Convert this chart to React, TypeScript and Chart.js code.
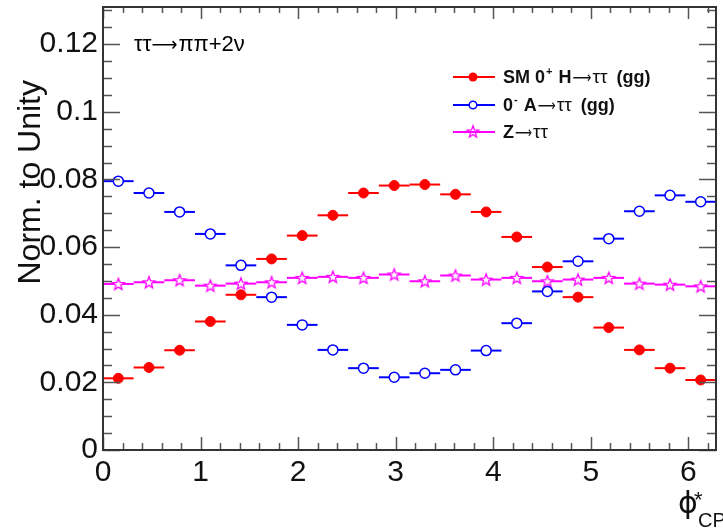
import React, { useEffect, useRef } from "react";
import { Chart, registerables } from "chart.js";
Chart.register(...registerables);

// bin centres of phi*_CP (20 bins over 0..2pi)
const phiCenters = [
  0.157, 0.471, 0.785, 1.1, 1.414, 1.728, 2.042, 2.356, 2.67, 2.985,
  3.299, 3.613, 3.927, 4.241, 4.555, 4.869, 5.184, 5.498, 5.812, 6.126,
];
const halfBin = 0.157;

const smHiggs = [
  0.0212, 0.0244, 0.0295, 0.038, 0.0459, 0.0565, 0.0634, 0.0694, 0.076, 0.0782,
  0.0785, 0.0756, 0.0704, 0.063, 0.0541, 0.0452, 0.0362, 0.0296, 0.0242, 0.0207,
];
const psA = [
  0.0795, 0.076, 0.0704, 0.0639, 0.0546, 0.0452, 0.037, 0.0296, 0.0242, 0.0215,
  0.0227, 0.0237, 0.0294, 0.0375, 0.0469, 0.0558, 0.0625, 0.0706, 0.0753, 0.0734,
];
const zTauTau = [
  0.0491, 0.0496, 0.0502, 0.0486, 0.0492, 0.0496, 0.0509, 0.0512, 0.0509, 0.0519,
  0.0499, 0.0516, 0.0504, 0.0509, 0.0499, 0.0504, 0.0509, 0.0492, 0.0489, 0.0484,
];

const ARROW = "\u27f6";
const X_MAX = 6.2832;
const Y_MAX = 0.131;
const FONT = "'Liberation Sans', Arial, Helvetica, sans-serif";
const SYM = "'DejaVu Sans', sans-serif";

function makeStar(fill: boolean): HTMLCanvasElement {
  const c = document.createElement("canvas");
  c.width = 16;
  c.height = 16;
  const g = c.getContext("2d")!;
  g.beginPath();
  for (let k = 0; k < 10; k++) {
    const r = k % 2 === 0 ? 6.2 : 2.6;
    const a = -Math.PI / 2 + (k * Math.PI) / 5;
    const px = 8 + r * Math.cos(a);
    const py = 8.5 + r * Math.sin(a);
    if (k === 0) g.moveTo(px, py);
    else g.lineTo(px, py);
  }
  g.closePath();
  if (fill) {
    g.fillStyle = "#ffffff";
    g.fill();
  }
  g.strokeStyle = "#ff00ff";
  g.lineWidth = 1.3;
  g.stroke();
  return c;
}

// flowing text segments; dx = extra gap before, w = stretched width
type Seg = { t: string; f: string; dx?: number; dy?: number; w?: number };

function drawSegs(ctx: CanvasRenderingContext2D, segs: Seg[], x: number, y: number) {
  let cx = x;
  segs.forEach((s) => {
    ctx.font = s.f;
    cx += s.dx || 0;
    const m = ctx.measureText(s.t).width;
    if (s.w) {
      ctx.save();
      ctx.translate(cx, y + (s.dy || 0));
      ctx.scale(s.w / m, 1);
      ctx.fillText(s.t, 0, 0);
      ctx.restore();
      cx += s.w;
    } else {
      ctx.fillText(s.t, cx, y + (s.dy || 0));
      cx += m;
    }
  });
}

export default function App() {
  const ref = useRef<HTMLCanvasElement | null>(null);

  useEffect(() => {
    if (!ref.current) return;
    const starPlot = makeStar(true);
    const starLegend = makeStar(false);

    const decor = {
      id: "rootDecor",
      beforeDatasetsDraw(chart: any) {
        const ctx = chart.ctx;
        const xs = chart.scales.x;
        const ys = chart.scales.y;
        const ca = chart.chartArea;
        ctx.save();
        ctx.beginPath();
        ctx.rect(ca.left, ca.top, ca.right - ca.left, ca.bottom - ca.top);
        ctx.clip();
        chart.data.datasets.forEach((ds: any) => {
          ctx.strokeStyle = ds.borderColor;
          ctx.lineWidth = 2;
          ds.data.forEach((p: any) => {
            const x1 = xs.getPixelForValue(p.x - halfBin);
            const x2 = xs.getPixelForValue(p.x + halfBin);
            const y = ys.getPixelForValue(p.y);
            ctx.beginPath();
            ctx.moveTo(x1, y);
            ctx.lineTo(x2, y);
            ctx.stroke();
          });
        });
        ctx.restore();
      },
      afterDraw(chart: any) {
        const ctx = chart.ctx;
        const xs = chart.scales.x;
        const ys = chart.scales.y;
        const ca = chart.chartArea;
        ctx.save();
        // ticks
        ctx.strokeStyle = "#555";
        ctx.lineWidth = 1.5;
        for (let i = 0; i <= 26; i++) {
          const v = i * 0.005;
          if (v > Y_MAX) break;
          const y = Math.round(ys.getPixelForValue(v)) + 0.5;
          const major = i % 4 === 0;
          const L = major ? 17 : 9;
          ctx.beginPath();
          ctx.moveTo(ca.left, y);
          ctx.lineTo(ca.left + L, y);
          ctx.moveTo(ca.right, y);
          ctx.lineTo(ca.right - L, y);
          ctx.stroke();
        }
        for (let i = 0; i <= 31; i++) {
          const v = i * 0.2;
          if (v > X_MAX) break;
          const x = Math.round(xs.getPixelForValue(v)) + 0.5;
          const major = i % 5 === 0;
          ctx.beginPath();
          ctx.moveTo(x, ca.bottom);
          ctx.lineTo(x, ca.bottom - (major ? 13 : 7));
          ctx.moveTo(x, ca.top);
          ctx.lineTo(x, ca.top + (major ? 12 : 6));
          ctx.stroke();
        }
        // frame
        ctx.strokeStyle = "#333";
        ctx.lineWidth = 2;
        ctx.strokeRect(ca.left, ca.top, ca.right - ca.left, ca.bottom - ca.top);

        // process title
        ctx.fillStyle = "#000";
        ctx.textAlign = "left";
        ctx.textBaseline = "alphabetic";
        const T = `22px ${FONT}`;
        drawSegs(
          ctx,
          [
            { t: "\u03c4\u03c4", f: T },
            { t: ARROW, f: `20px ${SYM}`, w: 26 },
            { t: "\u03c0\u03c0+2\u03bd", f: T, dx: 1 },
          ],
          134,
          51
        );

        // legend
        const rows = [
          { y: 77, color: "#ff0000", kind: "fill" },
          { y: 105, color: "#0000ff", kind: "open" },
          { y: 132, color: "#ff00ff", kind: "star" },
        ];
        const B = `bold 18px ${FONT}`;
        const BS = `bold 11px ${FONT}`;
        const AR = `16px ${SYM}`;
        const TAU = `19px ${FONT}`;
        const legendText: Seg[][] = [
          [
            { t: "SM 0", f: B },
            { t: "+", f: BS, dy: -8, dx: 1 },
            { t: " H", f: B, dx: 1 },
            { t: ARROW, f: AR, w: 19, dx: 1 },
            { t: "\u03c4\u03c4", f: TAU, dx: 1 },
            { t: " (gg)", f: B, dx: 4 },
          ],
          [
            { t: "0", f: B },
            { t: "-", f: BS, dy: -8, dx: 1 },
            { t: " A", f: B, dx: 1 },
            { t: ARROW, f: AR, w: 18, dx: 1 },
            { t: "\u03c4\u03c4", f: TAU, dx: 1 },
            { t: " (gg)", f: B, dx: 4 },
          ],
          [
            { t: "Z", f: B },
            { t: ARROW, f: AR, w: 17, dx: 1 },
            { t: "\u03c4\u03c4", f: TAU, dx: 1 },
          ],
        ];
        rows.forEach((r, i) => {
          ctx.strokeStyle = r.color;
          ctx.lineWidth = 2;
          ctx.beginPath();
          ctx.moveTo(453, r.y);
          ctx.lineTo(495, r.y);
          ctx.stroke();
          if (r.kind === "fill") {
            ctx.fillStyle = r.color;
            ctx.beginPath();
            ctx.arc(473, r.y, 4.5, 0, Math.PI * 2);
            ctx.fill();
          } else if (r.kind === "open") {
            ctx.fillStyle = "#fff";
            ctx.lineWidth = 1.5;
            ctx.beginPath();
            ctx.arc(473, r.y, 3.8, 0, Math.PI * 2);
            ctx.fill();
            ctx.stroke();
          } else {
            ctx.drawImage(starLegend, 473 - 8, r.y - 8.5);
          }
          ctx.fillStyle = "#111";
          drawSegs(ctx, legendText[i], 503, r.y + 6);
        });

        // y axis title
        ctx.fillStyle = "#111";
        ctx.save();
        ctx.translate(40, 80);
        ctx.rotate(-Math.PI / 2);
        ctx.textAlign = "right";
        ctx.font = `32px ${FONT}`;
        ctx.fillText("Norm. to Unity", 0, 0);
        ctx.restore();

        // x axis title
        ctx.textAlign = "left";
        ctx.font = `30px ${SYM}`;
        ctx.fillText("\u03d5", 678, 513);
        ctx.font = `22px ${FONT}`;
        ctx.fillText("*", 694, 507);
        ctx.font = `20px ${FONT}`;
        ctx.fillText("CP", 698, 527);
        ctx.restore();
      },
    };

    const chart = new Chart(ref.current, {
      type: "scatter",
      data: {
        datasets: [
          {
            label: "SM 0+ H\u2192\u03c4\u03c4 (gg)",
            data: phiCenters.map((x, i) => ({ x, y: smHiggs[i] })),
            pointStyle: "circle",
            pointRadius: 5,
            backgroundColor: "#ff0000",
            borderColor: "#ff0000",
            pointBorderWidth: 1,
          },
          {
            label: "0- A\u2192\u03c4\u03c4 (gg)",
            data: phiCenters.map((x, i) => ({ x, y: psA[i] })),
            pointStyle: "circle",
            pointRadius: 5,
            backgroundColor: "#ffffff",
            borderColor: "#0000ff",
            pointBorderWidth: 1.5,
          },
          {
            label: "Z\u2192\u03c4\u03c4",
            data: phiCenters.map((x, i) => ({ x, y: zTauTau[i] })),
            pointStyle: starPlot as any,
            pointRadius: 6,
            backgroundColor: "#ffffff",
            borderColor: "#ff00ff",
          },
        ],
      },
      options: {
        responsive: false,
        animation: false,
        layout: { padding: { left: 0, right: 5, top: 7, bottom: 0 } },
        plugins: { legend: { display: false }, tooltip: { enabled: false } },
        scales: {
          x: {
            type: "linear",
            min: 0,
            max: X_MAX,
            afterFit: (s: any) => {
              s.height = 81;
              s.paddingLeft = 0;
              s.paddingRight = 0;
            },
            grid: { display: false, drawTicks: false },
            border: { display: false },
            ticks: {
              stepSize: 1,
              includeBounds: false,
              padding: 5,
              maxRotation: 0,
              autoSkip: false,
              color: "#111",
              font: { size: 30, family: FONT },
            },
          },
          y: {
            type: "linear",
            min: 0,
            max: Y_MAX,
            afterFit: (s: any) => {
              s.width = 103;
              s.paddingTop = 0;
              s.paddingBottom = 0;
            },
            grid: { display: false, drawTicks: false },
            border: { display: false },
            ticks: {
              stepSize: 0.02,
              includeBounds: false,
              padding: 5,
              autoSkip: false,
              color: "#111",
              font: { size: 30, family: FONT },
              callback: (v: any) => (Math.abs(v) < 1e-9 ? "0" : String(+Number(v).toFixed(2))),
            },
          },
        },
      },
      plugins: [decor],
    } as any);
    return () => chart.destroy();
  }, []);

  return (
    <div style={{ position: "fixed", left: 0, top: 0, width: 723, height: 531, background: "#fff" }}>
      <canvas ref={ref} width={723} height={531} style={{ display: "block" }} />
    </div>
  );
}
